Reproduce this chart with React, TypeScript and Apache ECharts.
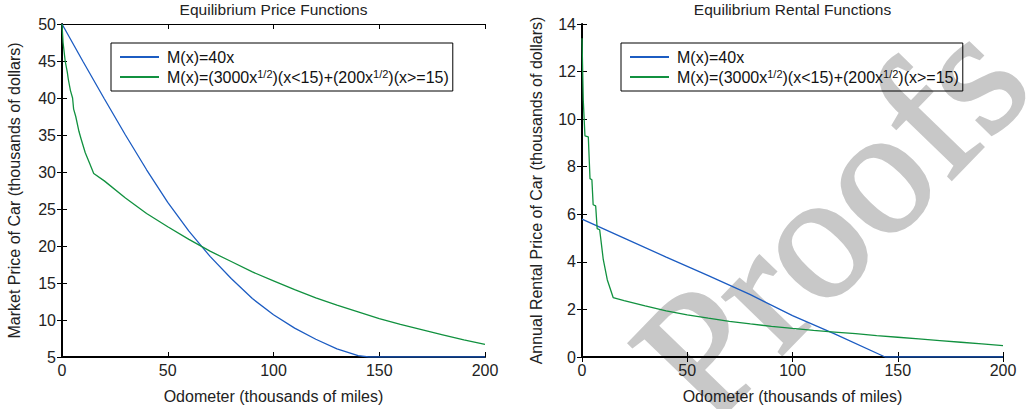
import React, { useEffect, useRef } from "react";
import * as echarts from "echarts";

const TITLES = ["Equilibrium Price Functions", "Equilibrium Rental Functions"];
const X_NAME = "Odometer (thousands of miles)";
const Y_NAMES = ["Market Price of Car (thousands of dollars)", "Annual Rental Price of Car (thousands of dollars)"];
const BLUE_NAME = "M(x)=40x";
const GREEN_NAME = "M(x)=(3000x1/2)(x<15)+(200x1/2)(x>=15)";
const GREEN_RICH = "M(x)=(3000x{sup|1/2})(x<15)+(200x{sup|1/2})(x>=15)";

// Left panel: market price
const PRICE_BLUE_X = [0, 10, 20, 30, 40, 50, 60, 70, 80, 90, 100, 110, 120, 130, 140, 145, 150, 160, 170, 180, 190, 200];
const PRICE_BLUE_Y = [50, 44.9, 39.9, 35.0, 30.3, 25.9, 22.0, 18.6, 15.6, 12.9, 10.7, 8.9, 7.4, 6.1, 5.2, 5.0, 5, 5, 5, 5, 5, 5];
const PRICE_GREEN_X = [0, 0.5, 1.5, 2.5, 3, 4, 5, 5.5, 6.5, 8, 9, 11, 13, 15, 20, 30, 40, 50, 60, 70, 80, 90, 100, 110, 120, 130, 140, 150, 160, 170, 180, 190, 200];
const PRICE_GREEN_Y = [50, 47.5, 45, 43.5, 42.5, 41, 40, 38.5, 37.5, 35.5, 34.5, 32.6, 31.2, 29.8, 28.8, 26.5, 24.4, 22.6, 20.9, 19.3, 17.9, 16.5, 15.3, 14.1, 13.0, 12.0, 11.1, 10.2, 9.4, 8.7, 8.0, 7.3, 6.7];

// Right panel: annual rental price
const RENT_BLUE_X = [0, 20, 40, 60, 80, 100, 120, 144, 160, 180, 200];
const RENT_BLUE_Y = [5.8, 5.0, 4.2, 3.42, 2.62, 1.74, 0.97, 0, 0, 0, 0];
const RENT_GREEN_X = [0, 0.6, 1.4, 3.0, 3.8, 4.7, 5.3, 6.5, 7.2, 8.4, 10.1, 12, 14.8, 20, 30, 40, 50, 60, 70, 80, 90, 100, 110, 120, 130, 140, 150, 160, 170, 180, 190, 200];
const RENT_GREEN_Y = [13.4, 10.8, 9.3, 9.25, 7.5, 7.45, 6.4, 6.35, 5.4, 5.35, 4.1, 3.25, 2.5, 2.37, 2.15, 1.94, 1.77, 1.63, 1.5, 1.39, 1.29, 1.2, 1.12, 1.05, 0.98, 0.9, 0.83, 0.76, 0.69, 0.62, 0.55, 0.48];

const X_MIN = 0, X_MAX = 200, X_STEP = 50;
const Y_RANGES = [[5, 50, 5], [0, 14, 2]];

const BLUE = "#1c5cc2";
const GREEN = "#11913f";
const FONT = "Liberation Sans, Arial, Helvetica, sans-serif";
const FS = 16;

const pairs = (xs: number[], ys: number[]) => xs.map((x, i) => [x, ys[i]]);

export default function App() {
  const ref = useRef<HTMLDivElement>(null);
  useEffect(() => {
    if (!ref.current) return;
    const chart = echarts.init(ref.current, undefined, { renderer: "svg" });
    const grids = [
      { left: 62, top: 24, width: 423, height: 333 },
      { left: 582, top: 24, width: 421, height: 333 },
    ];
    const xAxis: any[] = [];
    const yAxis: any[] = [];
    grids.forEach((g, gi) => {
      const base = {
        gridIndex: gi, type: "value", min: X_MIN, max: X_MAX, interval: X_STEP,
        splitLine: { show: false },
        axisTick: { inside: true, length: 5, lineStyle: { color: "#000", width: 1 } },
      };
      xAxis.push({
        ...base, position: "bottom",
        axisLine: { lineStyle: { color: "#000", width: 2 } },
        axisLabel: { fontSize: FS, color: "#222", margin: 5, fontFamily: FONT },
        name: X_NAME, nameLocation: "middle", nameGap: 31,
        nameTextStyle: { fontSize: FS, color: "#222", fontFamily: FONT },
      });
      xAxis.push({
        ...base, position: "top",
        axisLine: { lineStyle: { color: "#000", width: 1 } },
        axisLabel: { show: false },
      });
      const [ymin, ymax, yint] = Y_RANGES[gi];
      const ybase = {
        gridIndex: gi, type: "value", min: ymin, max: ymax, interval: yint,
        splitLine: { show: false },
        axisTick: { inside: true, length: 5, lineStyle: { color: "#000", width: 1 } },
      };
      yAxis.push({
        ...ybase, position: "left",
        axisLine: { show: true, lineStyle: { color: "#000", width: 2 } },
        axisLabel: { fontSize: FS, color: "#222", margin: 6, fontFamily: FONT },
        name: Y_NAMES[gi], nameLocation: "middle", nameGap: gi === 0 ? 40 : 38,
        nameTextStyle: { fontSize: FS, color: "#222", fontFamily: FONT },
      });
      yAxis.push({
        ...ybase, position: "right",
        axisLine: { show: true, lineStyle: { color: "#000", width: 1 } },
        axisLabel: { show: false },
      });
    });

    const lineSeries = (name: string, color: string, gi: number, data: number[][]) => ({
      type: "line", name, xAxisIndex: gi * 2, yAxisIndex: gi * 2, data,
      showSymbol: false, symbol: "none", smooth: false,
      lineStyle: { color, width: 1.3 }, itemStyle: { color }, z: 3,
    });

    const legendFor = (left: number) => ({
      left, top: 43, orient: "vertical", selectedMode: false,
      data: [BLUE_NAME, GREEN_NAME],
      borderColor: "#000", borderWidth: 1, padding: [5, 4, 5, 9], itemGap: 2,
      itemWidth: 39, itemHeight: 2, icon: "rect",
      formatter: (n: string) => (n === GREEN_NAME ? GREEN_RICH : n),
      textStyle: {
        fontSize: FS, color: "#111", fontFamily: FONT, lineHeight: 18, padding: [0, 0, 0, 3],
        rich: { sup: { fontSize: 11, lineHeight: 10, verticalAlign: "top", fontFamily: FONT, color: "#111" } },
      },
    });

    chart.setOption({
      animation: false,
      backgroundColor: "#fff",
      title: TITLES.map((t, i) => ({
        text: t, left: grids[i].left + grids[i].width / 2, top: 1, textAlign: "center", padding: 0,
        textStyle: { fontSize: 15.5, fontWeight: "normal", color: "#222", fontFamily: FONT },
      })),
      grid: grids,
      xAxis, yAxis,
      legend: [legendFor(111), legendFor(621)],
      graphic: [{
        type: "text", x: 830, y: 218, rotation: (46 * Math.PI) / 180, z: -10, silent: true,
        style: {
          text: "Proofs", fontSize: 180, fontFamily: "Liberation Serif, Times New Roman, serif",
          fill: "#c8c8c8", align: "center", verticalAlign: "middle",
          stroke: "#c8c8c8", lineWidth: 3,
        },
      }],
      series: [
        lineSeries(BLUE_NAME, BLUE, 0, pairs(PRICE_BLUE_X, PRICE_BLUE_Y)),
        lineSeries(GREEN_NAME, GREEN, 0, pairs(PRICE_GREEN_X, PRICE_GREEN_Y)),
        lineSeries(BLUE_NAME, BLUE, 1, pairs(RENT_BLUE_X, RENT_BLUE_Y)),
        lineSeries(GREEN_NAME, GREEN, 1, pairs(RENT_GREEN_X, RENT_GREEN_Y)),
      ],
    });
    return () => chart.dispose();
  }, []);
  return <div ref={ref} style={{ position: "fixed", left: 0, top: 0, width: 1026, height: 409 }} />;
}
